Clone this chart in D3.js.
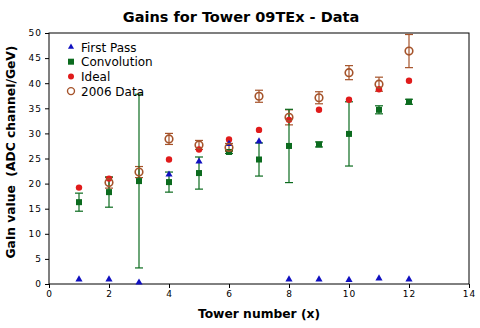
<!DOCTYPE html>
<html><head><meta charset="utf-8">
<script src="https://cdn.jsdelivr.net/npm/d3@7"></script>
<style>body{margin:0;background:#fff}text{font-family:Verdana,"DejaVu Sans",sans-serif}</style>
</head><body><svg id="c" width="480" height="328"></svg>
<script>
const towers = [1,2,3,4,5,6,7,8,9,10,11,12];
const firstPass = [0.9,0.9,0.3,21.8,24.4,27.9,28.4,0.9,0.9,0.8,1.1,0.9];
const convolution = [16.3,18.3,20.5,20.3,22.1,26.3,24.8,27.5,27.8,29.9,34.7,36.3];
const convolutionErr = [1.8,3.0,17.3,2.0,3.2,0.3,3.3,7.3,0.5,6.4,0.8,0.5];
const ideal = [19.2,21.0,null,24.8,26.8,28.8,30.7,32.7,34.7,36.7,38.8,40.5];
const data2006 = [null,20.2,22.3,28.9,27.7,27.2,37.4,33.2,37.1,42.1,39.8,46.4];
const data2006Err = [null,1.1,1.1,1.1,0.9,0.8,1.2,1.5,1.2,1.4,1.4,3.3];
const xTicks = [0,2,4,6,8,10,12,14];
const yTicks = [0,5,10,15,20,25,30,35,40,45,50];
const legendNames = ["First Pass","Convolution","Ideal","2006 Data"];

const svg = d3.select("#c");
const L=49,R=469,T=33,B=284;
const x = d3.scaleLinear().domain([0,14]).range([L,R]);
const y = d3.scaleLinear().domain([0,50]).range([B,T]);

const blue="#1010c0", green="#0b6b1e", red="#e01b1b", brown="#a5532a";

svg.append("text").attr("x",241).attr("y",22).attr("text-anchor","middle")
  .attr("font-weight","bold").attr("font-size",14.5).text("Gains for Tower 09TEx - Data");

svg.append("g").attr("transform",`translate(0,${B})`)
  .call(d3.axisBottom(x).tickValues(xTicks).tickSize(4).tickPadding(3))
  .call(g=>{g.select(".domain").remove();g.selectAll("line").attr("stroke","#000");
    g.selectAll("text").attr("font-size",9).attr("letter-spacing",1).attr("fill","#000");});
svg.append("g").attr("transform",`translate(${L},0)`)
  .call(d3.axisLeft(y).tickValues(yTicks).tickSize(4).tickPadding(3))
  .call(g=>{g.select(".domain").remove();g.selectAll("line").attr("stroke","#000");
    g.selectAll("text").attr("font-size",9).attr("letter-spacing",1).attr("fill","#000");});

svg.append("rect").attr("x",L).attr("y",T).attr("width",R-L).attr("height",B-T)
  .attr("fill","none").attr("stroke","#000").attr("stroke-width",1);

svg.append("text").attr("x",259).attr("y",318).attr("text-anchor","middle")
  .attr("font-weight","bold").attr("font-size",12.3).text("Tower number (x)");
svg.append("text").attr("transform","translate(15,152) rotate(-90)").attr("text-anchor","middle")
  .attr("font-weight","bold").attr("font-size",12.3).style("white-space","pre").text("Gain value  (ADC channel/GeV)");

const plot = svg.append("g");
function errBars(vals, errs, color){
  towers.forEach((t,i)=>{
    if(vals[i]==null) return;
    const cx=x(t), y1=y(vals[i]+errs[i]), y2=y(vals[i]-errs[i]);
    plot.append("line").attr("x1",cx).attr("x2",cx).attr("y1",y1).attr("y2",y2).attr("stroke",color).attr("stroke-width",1.2);
    [y1,y2].forEach(yy=>plot.append("line").attr("x1",cx-4).attr("x2",cx+4).attr("y1",yy).attr("y2",yy).attr("stroke",color).attr("stroke-width",1.2));
  });
}
errBars(data2006, data2006Err, brown);
errBars(convolution, convolutionErr, green);

const tri = d3.symbol().type(d3.symbolTriangle).size(22);
towers.forEach((t,i)=>{
  if(ideal[i]!=null) plot.append("circle").attr("cx",x(t)).attr("cy",y(ideal[i])).attr("r",3.2).attr("fill",red);
});
towers.forEach((t,i)=>{
  plot.append("rect").attr("x",x(t)-3).attr("y",y(convolution[i])-3).attr("width",6).attr("height",6).attr("fill",green);
});
towers.forEach((t,i)=>{
  plot.append("path").attr("d",tri).attr("transform",`translate(${x(t)},${y(firstPass[i])})`).attr("fill",blue);
});
towers.forEach((t,i)=>{
  if(data2006[i]!=null) plot.append("circle").attr("cx",x(t)).attr("cy",y(data2006[i])).attr("r",3.8)
    .attr("fill","none").attr("stroke",brown).attr("stroke-width",1.6);
});

// legend
const lg = svg.append("g");
legendNames.forEach((n,i)=>{
  const ly=47+i*14.7, lx=71;
  if(i===0) lg.append("path").attr("d",d3.symbol().type(d3.symbolTriangle).size(16)).attr("transform",`translate(${lx},${ly})`).attr("fill",blue);
  if(i===1) lg.append("rect").attr("x",lx-3).attr("y",ly-3).attr("width",6).attr("height",6).attr("fill",green);
  if(i===2) lg.append("circle").attr("cx",lx).attr("cy",ly).attr("r",3).attr("fill",red);
  if(i===3) lg.append("circle").attr("cx",lx).attr("cy",ly).attr("r",3.5).attr("fill","none").attr("stroke",brown).attr("stroke-width",1.4);
  lg.append("text").attr("x",81).attr("y",ly+4.5).attr("font-size",12).text(n);
});
</script></body></html>
